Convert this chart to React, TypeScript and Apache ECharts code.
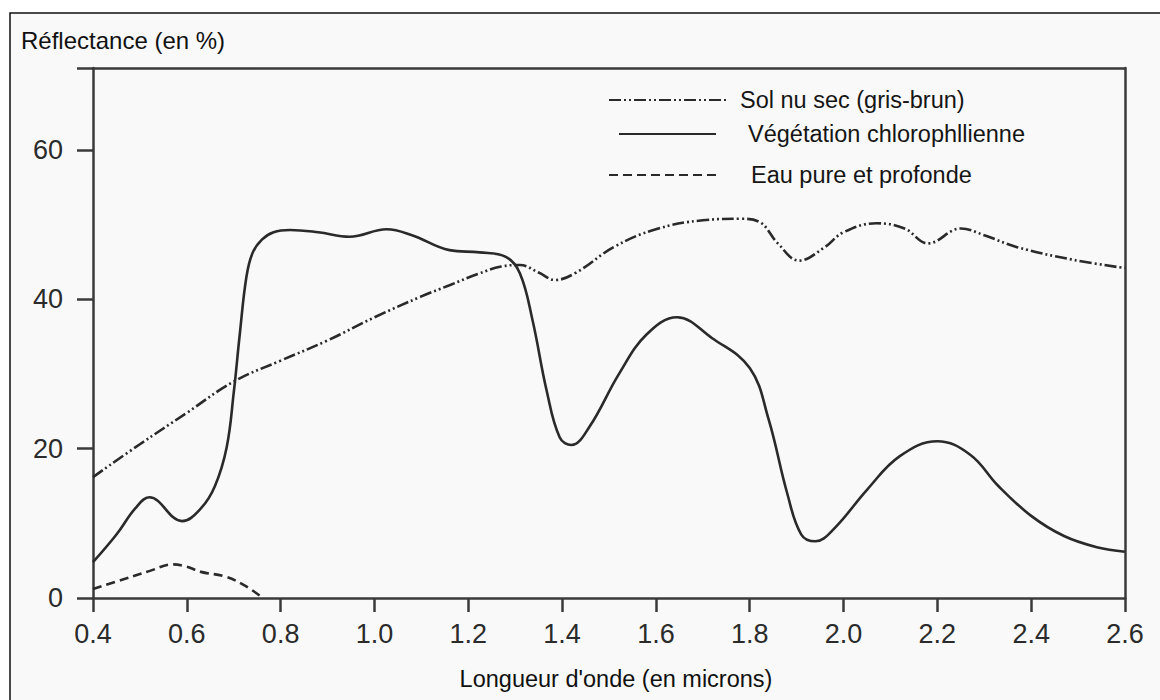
import React, { useEffect, useRef } from "react";
import * as echarts from "echarts";

const FONT = "'Liberation Sans', Arial, Helvetica, sans-serif";

const xTickValues = [0.4, 0.6, 0.8, 1.0, 1.2, 1.4, 1.6, 1.8, 2.0, 2.2, 2.4, 2.6];
const yTickLabels = [0, 20, 40, 60];

const soilName = "Sol nu sec (gris-brun)";
const vegName = "Végétation chlorophllienne";
const waterName = "Eau pure et profonde";

const soilX = [0.4, 0.5, 0.6, 0.7, 0.8, 0.9, 1.0, 1.1, 1.16, 1.22, 1.27, 1.31, 1.35, 1.385, 1.43, 1.51, 1.6, 1.7, 1.78, 1.82, 1.86, 1.905, 1.96, 2.0, 2.07, 2.13, 2.18, 2.25, 2.3, 2.37, 2.49, 2.6];
const soilY = [16.2, 20.6, 24.8, 29.0, 31.8, 34.5, 37.6, 40.4, 41.9, 43.4, 44.4, 44.6, 43.6, 42.6, 43.6, 47.0, 49.4, 50.6, 50.8, 50.4, 47.5, 45.2, 47.0, 49.0, 50.2, 49.5, 47.5, 49.5, 48.6, 47.0, 45.3, 44.2];

const vegX = [0.4, 0.45, 0.49, 0.52, 0.59, 0.63, 0.66, 0.685, 0.7, 0.713, 0.727, 0.74, 0.76, 0.785, 0.82, 0.88, 0.947, 1.026, 1.08, 1.16, 1.224, 1.28, 1.31, 1.337, 1.367, 1.395, 1.42, 1.458, 1.522, 1.58, 1.645, 1.72, 1.8, 1.84, 1.88, 1.91, 1.94, 1.98, 2.05, 2.12, 2.2, 2.27, 2.33, 2.4, 2.47, 2.54, 2.6];
const vegY = [4.8, 8.5, 12.0, 13.5, 10.3, 12.0, 15.0, 20.2, 27.5, 35.4, 43.0, 46.2, 48.0, 49.0, 49.3, 49.0, 48.4, 49.4, 48.6, 46.6, 46.3, 45.7, 43.5, 37.2, 27.8, 21.5, 20.5, 22.9, 30.1, 35.3, 37.6, 34.8, 30.8, 24.0, 14.0, 8.5, 7.6, 9.3, 14.5, 19.0, 21.0, 19.2, 15.0, 11.0, 8.3, 6.8, 6.2];

const waterX = [0.4, 0.47, 0.52, 0.57, 0.6, 0.63, 0.68, 0.72, 0.76];
const waterY = [1.2, 2.6, 3.6, 4.5, 4.2, 3.5, 2.9, 1.8, 0.1];

const pairs = (xs: number[], ys: number[]) => xs.map((x, i) => [x, ys[i]]);

const LINE = "#2a2a2a";
const AXIS = "#3a3a3a";

export default function App() {
  const ref = useRef<HTMLDivElement>(null);
  useEffect(() => {
    const chart = echarts.init(ref.current!, null, { renderer: "svg" });
    const legendBase = {
      orient: "vertical",
      selectedMode: false,
      itemHeight: 14,
      itemStyle: { opacity: 0 },
      textStyle: { fontFamily: FONT, fontSize: 23.5, color: "#151515" },
    };
    chart.setOption({
      animation: false,
      backgroundColor: "#ffffff",
      textStyle: { fontFamily: FONT },
      grid: { left: 93, right: 35, top: 68, bottom: 102, containLabel: false },
      graphic: [
        {
          type: "rect",
          z: -10,
          silent: true,
          shape: { x: 10, y: 13, width: 1200, height: 720 },
          style: { fill: "#f9f9f9", stroke: "#111", lineWidth: 1.5 },
        },
        {
          type: "text",
          x: 21,
          y: 28,
          style: { text: "Réflectance (en %)", fontFamily: FONT, fontSize: 24, fill: "#111", textAlign: "left", textVerticalAlign: "top" },
        },
        {
          type: "text",
          x: 616,
          y: 667,
          style: { text: "Longueur d'onde (en microns)", fontFamily: FONT, fontSize: 23.5, fill: "#111", textAlign: "center", textVerticalAlign: "top" },
        },
      ],
      legend: [
        { ...legendBase, data: [soilName], left: 603, top: 83, itemWidth: 120, textStyle: { ...legendBase.textStyle, padding: [0, 0, 0, 6] } },
        { ...legendBase, data: [vegName], left: 613, top: 117, itemWidth: 97, textStyle: { ...legendBase.textStyle, padding: [0, 0, 0, 27] } },
        { ...legendBase, data: [waterName], left: 603, top: 158, itemWidth: 110, textStyle: { ...legendBase.textStyle, padding: [0, 0, 0, 27] } },
      ],
      xAxis: [
        {
          type: "value",
          min: 0.4,
          max: 2.6,
          interval: 0.2,
          axisLine: { show: true, onZero: false, lineStyle: { color: AXIS, width: 2.5 } },
          axisTick: { show: true, inside: false, length: 14, lineStyle: { color: AXIS, width: 2.5 }, customValues: xTickValues },
          axisLabel: {
            show: true,
            margin: 22,
            fontSize: 27,
            color: "#2b2b2b",
            fontFamily: FONT,
            customValues: xTickValues,
            formatter: (v: number) => v.toFixed(1),
          },
          splitLine: { show: false },
        },
        {
          type: "value",
          position: "top",
          min: 0.4,
          max: 2.6,
          axisLine: { show: true, onZero: false, lineStyle: { color: AXIS, width: 2.5 } },
          axisTick: { show: false },
          axisLabel: { show: false },
          splitLine: { show: false },
        },
      ],
      yAxis: [
        {
          type: "value",
          min: 0,
          max: 71,
          interval: 20,
          axisLine: { show: true, onZero: false, lineStyle: { color: AXIS, width: 2.5 } },
          axisTick: { show: true, inside: false, length: 16, lineStyle: { color: AXIS, width: 2.5 }, customValues: [0, 20, 40, 60, 71] },
          axisLabel: {
            show: true,
            margin: 30,
            fontSize: 27,
            color: "#2b2b2b",
            fontFamily: FONT,
            customValues: yTickLabels,
          },
          splitLine: { show: false },
        },
        {
          type: "value",
          position: "right",
          min: 0,
          max: 71,
          axisLine: { show: true, onZero: false, lineStyle: { color: AXIS, width: 2.5 } },
          axisTick: { show: false },
          axisLabel: { show: false },
          splitLine: { show: false },
        },
      ],
      series: [
        {
          name: soilName,
          type: "line",
          data: pairs(soilX, soilY),
          smooth: 0.4,
          symbol: "none",
          lineStyle: { color: LINE, width: 2.6, type: [12, 3, 2, 3, 2, 3] },
          itemStyle: { color: LINE },
        },
        {
          name: vegName,
          type: "line",
          data: pairs(vegX, vegY),
          smooth: 0.4,
          symbol: "none",
          lineStyle: { color: LINE, width: 2.6, type: "solid" },
          itemStyle: { color: LINE },
        },
        {
          name: waterName,
          type: "line",
          data: pairs(waterX, waterY),
          smooth: 0.4,
          symbol: "none",
          lineStyle: { color: LINE, width: 2.6, type: [9, 5] },
          itemStyle: { color: LINE },
        },
      ],
    });
    return () => chart.dispose();
  }, []);
  return <div ref={ref} style={{ position: "fixed", left: 0, top: 0, width: 1160, height: 700 }} />;
}
